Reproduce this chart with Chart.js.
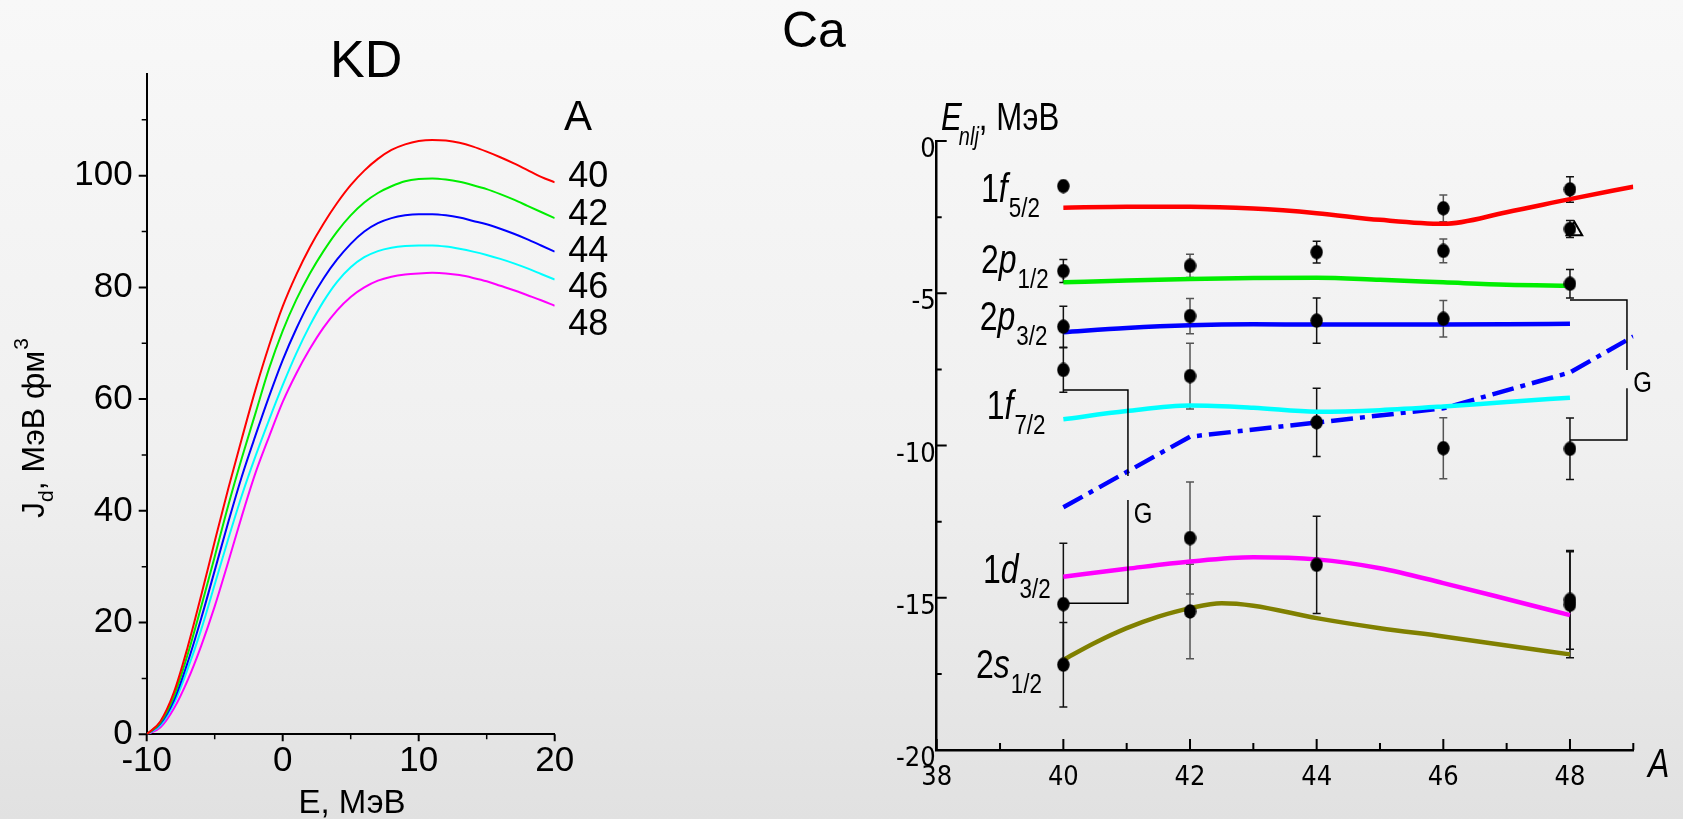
<!DOCTYPE html>
<html>
<head>
<meta charset="utf-8">
<script src="https://cdn.jsdelivr.net/npm/chart.js@4.4.1/dist/chart.umd.min.js"></script>
<style>
  html, body { margin: 0; padding: 0; }
  body {
    width: 1683px; height: 819px; overflow: hidden; position: relative;
    background: linear-gradient(to bottom, #f8f8f8 0%, #f0f0f0 55%, #e1e1e1 100%);
  }
  #kd { position: absolute; left: 0; top: 0; width: 700px; height: 819px; }
  #levels { position: absolute; left: 700px; top: 0; width: 983px; height: 819px; }
</style>
</head>
<body>
<canvas id="kd" width="700" height="819"></canvas>
<canvas id="levels" width="983" height="819"></canvas>
<script>
const SANS = '"Liberation Sans", Arial, sans-serif';
const NARROW = '"Liberation Sans Narrow", "Arial Narrow", "DejaVu Sans Condensed", sans-serif';

// ---- left panel: volume integral J_d(E) for Ca isotopes ----
const energy = [-10, -9, -8, -7, -6, -5, -4, -3, -2, -1, 0, 1, 2, 3, 4, 5, 6, 7, 8, 9, 10,
                11, 12, 13, 14, 15, 16, 17, 18, 19, 20];
const jd40 = [0, 2.3, 7.5, 15.5, 24.8, 34.5, 44, 53, 61.7, 69.6, 76.6, 82.3, 87.2, 91.4, 95.1, 98.3,
              100.9, 103, 104.6, 105.6, 106.2, 106.4, 106.3, 105.9, 105.2, 104.3, 103.3, 102.2, 101, 99.8, 98.8];
const jd42 = [0, 2.1, 6.8, 14.2, 22.8, 31.8, 41, 49.5, 57.5, 65.5, 72.2, 77.8, 82.5, 86.5, 90, 92.9,
              95.2, 96.9, 98.1, 99, 99.4, 99.5, 99.3, 98.9, 98.3, 97.6, 96.7, 95.7, 94.6, 93.5, 92.4];
const jd44 = [0, 1.9, 6.1, 12.8, 20.7, 29.3, 38, 46.2, 53.5, 60.5, 67, 72.6, 77.5, 81.6, 85, 87.8,
              90, 91.5, 92.4, 92.9, 93.1, 93.1, 92.9, 92.5, 91.9, 91.3, 90.5, 89.6, 88.6, 87.5, 86.4];
const jd46 = [0, 1.6, 5.5, 11.6, 18.7, 26.8, 35, 42.8, 49.8, 56.3, 62.5, 68.2, 73.2, 77.5, 81, 83.6,
              85.4, 86.5, 87.1, 87.4, 87.5, 87.5, 87.3, 86.9, 86.4, 85.8, 85.1, 84.3, 83.4, 82.4, 81.4];
const jd48 = [0, 1.2, 4.6, 9.6, 15.8, 22.9, 30.9, 39.1, 46.8, 53.3, 59.5, 64.6, 69, 72.8, 75.9, 78.3,
              80, 81.2, 81.9, 82.3, 82.5, 82.6, 82.5, 82.2, 81.7, 81.1, 80.3, 79.5, 78.6, 77.7, 76.7];
const isotopes = ['40', '42', '44', '46', '48'];
const isoLabelJ = [99.7, 92.9, 86.3, 79.8, 73.2];
const kdColors = ['#ff0000', '#00ee00', '#0000ff', '#00ffff', '#ff00ff'];
const kdETicks = [-10, 0, 10, 20];
const kdEMinor = [-5, 5, 15];
const kdJTicks = [0, 20, 40, 60, 80, 100];
const kdJMinor = [10, 30, 50, 70, 90, 110];

// ---- right panel: single-particle levels E_nlj vs A ----
const lvF52A = [40, 41, 42, 43, 44, 45, 46, 47, 48, 49];
const lvF52E = [-2.19, -2.16, -2.16, -2.22, -2.37, -2.59, -2.72, -2.34, -1.91, -1.5];
const lvP12A = [40, 41, 42, 43, 44, 45, 46, 47, 48];
const lvP12E = [-4.64, -4.58, -4.53, -4.5, -4.49, -4.56, -4.64, -4.72, -4.75];
const lvP32A = [40, 41, 42, 43, 44, 45, 46, 47, 48];
const lvP32E = [-6.28, -6.14, -6.05, -6.02, -6.03, -6.03, -6.03, -6.02, -6.0];
const lvF72A = [40, 41, 42, 43, 44, 45, 46, 47, 48];
const lvF72E = [-9.14, -8.87, -8.69, -8.76, -8.89, -8.84, -8.72, -8.57, -8.43];
const lvD32A = [40, 41, 42, 43, 44, 45, 46, 47, 48];
const lvD32E = [-14.31, -14.05, -13.81, -13.67, -13.74, -14.03, -14.52, -15.04, -15.57];
const lvS12A = [40, 40.5, 41, 41.5, 42, 42.5, 43, 44, 45, 46, 47, 48];
const lvS12E = [-17.04, -16.48, -16.0, -15.62, -15.34, -15.18, -15.26, -15.67, -16.0, -16.27, -16.57, -16.86];
const fermiA = [40, 42, 46, 48, 49];
const fermiE = [-12.03, -9.71, -8.78, -7.6, -6.42];

// experimental levels with uncertainties
const expA = [40, 40, 40, 40, 40, 40,
              42, 42, 42, 42, 42,
              44, 44, 44, 44,
              46, 46, 46, 46,
              48, 48, 48, 48, 48, 48];
const expE = [-1.48, -4.27, -6.1, -7.52, -15.21, -17.2,
              -4.1, -5.75, -7.72, -13.04, -15.45,
              -3.65, -5.9, -9.24, -13.92,
              -2.21, -3.61, -5.84, -10.09,
              -1.59, -2.89, -4.69, -10.11, -15.07, -15.23];
const expErr = [0, 0.38, 0.67, 0.73, 2.0, 1.39,
                0.38, 0.58, 1.08, 1.84, 1.55,
                0.36, 0.74, 1.12, 1.6,
                0.44, 0.39, 0.6, 1.0,
                0.42, 0.28, 0.47, 1.01, 1.62, 1.74];
const triA = [48.07];
const triE = [-2.95];

// gap brackets (null = break in the line)
const gapLeftA = [40, 41.02, 41.02, 41.02, 41.02, 41.02, 40];
const gapLeftE = [-8.18, -8.18, -11.0, null, -11.79, -15.18, -15.18];
const gapRightA = [48, 48.9, 48.9, 48.9, 48.9, 48.9, 48];
const gapRightE = [-5.22, -5.22, -7.52, null, -8.12, -9.82, -9.82];
const gapLabels = [{ text: 'G', a: 41.11, e: -12.55 }, { text: 'G', a: 49.0, e: -8.23 }];

const levelNames = [
  { n: '1', l: 'f', sub: '5/2', a: 38.7, e: -1.99 },
  { n: '2', l: 'p', sub: '1/2', a: 38.7, e: -4.34 },
  { n: '2', l: 'p', sub: '3/2', a: 38.68, e: -6.21 },
  { n: '1', l: 'f', sub: '7/2', a: 38.79, e: -9.14 },
  { n: '1', l: 'd', sub: '3/2', a: 38.73, e: -14.53 },
  { n: '2', l: 's', sub: '1/2', a: 38.62, e: -17.65 }
];
const lvATicks = [38, 40, 42, 44, 46, 48];
const lvAMinor = [39, 41, 43, 45, 47, 49];
const lvETicks = [0, -5, -10, -15, -20];
const lvEMinor = [-2.5, -7.5, -12.5, -17.5];

const pts = (xs, ys) => xs.map((x, i) => ({ x: x, y: ys[i] }));

// tick marks drawn along the axis lines
function tickMarks(chart, id, values, len, inward, width) {
  const s = chart.scales[id];
  const ca = chart.chartArea;
  const ctx = chart.ctx;
  ctx.save();
  ctx.strokeStyle = '#000';
  ctx.lineWidth = width;
  ctx.beginPath();
  values.forEach(v => {
    const p = s.getPixelForValue(v);
    if (s.isHorizontal()) {
      ctx.moveTo(p, ca.bottom);
      ctx.lineTo(p, inward ? ca.bottom - len : ca.bottom + len);
    } else {
      ctx.moveTo(ca.left, p);
      ctx.lineTo(inward ? ca.left + len : ca.left - len, p);
    }
  });
  ctx.stroke();
  ctx.restore();
}

// condensed text: Liberation Sans squeezed horizontally, returns the drawn width
function condensed(ctx, text, x, y, size, italic) {
  ctx.save();
  ctx.translate(x, y);
  ctx.scale(0.8, 1);
  ctx.font = (italic ? 'italic ' : '') + size + 'px ' + SANS;
  ctx.fillText(text, 0, 0);
  const w = ctx.measureText(text).width * 0.8;
  ctx.restore();
  return w;
}

const kdDecor = {
  id: 'kdDecor',
  afterDraw(chart) {
    const ctx = chart.ctx;
    const xs = chart.scales.x, ys = chart.scales.y;
    tickMarks(chart, 'x', kdETicks, 7, false, 2);
    tickMarks(chart, 'x', kdEMinor, 5, false, 1.5);
    tickMarks(chart, 'y', kdJTicks, 8, false, 2);
    tickMarks(chart, 'y', kdJMinor, 5, false, 1.5);
    ctx.save();
    ctx.fillStyle = '#000';
    ctx.font = '52px ' + SANS;
    ctx.textBaseline = 'alphabetic';
    ctx.fillText('KD', 330, 76.7);
    ctx.font = '42px ' + SANS;
    ctx.fillText('A', 564, 130);
    ctx.font = '36px ' + SANS;
    ctx.textBaseline = 'middle';
    isotopes.forEach((t, i) => {
      ctx.fillText(t, xs.getPixelForValue(21.0), ys.getPixelForValue(isoLabelJ[i]));
    });
    // axis titles
    ctx.textBaseline = 'alphabetic';
    ctx.font = '33px ' + SANS;
    ctx.textAlign = 'center';
    ctx.fillText('E, МэВ', 352, 813);
    ctx.translate(44, 430);
    ctx.rotate(-Math.PI / 2);
    ctx.textAlign = 'left';
    let x = -88;
    ctx.font = '32px ' + SANS;
    ctx.fillText('J', x, 0); x += ctx.measureText('J').width;
    ctx.font = '21px ' + SANS;
    ctx.fillText('d', x, 9); x += ctx.measureText('d').width;
    ctx.font = '32px ' + SANS;
    ctx.fillText(', МэВ фм', x, 0); x += ctx.measureText(', МэВ фм').width;
    ctx.font = '21px ' + SANS;
    ctx.fillText('3', x + 1, -16);
    ctx.restore();
  }
};

new Chart(document.getElementById('kd'), {
  type: 'line',
  data: {
    datasets: [jd40, jd42, jd44, jd46, jd48].map((d, i) => ({
      label: 'A=' + isotopes[i],
      data: pts(energy, d),
      borderColor: kdColors[i],
      borderWidth: 2,
      pointRadius: 0,
      fill: false,
      cubicInterpolationMode: 'monotone'
    }))
  },
  options: {
    responsive: false,
    animation: false,
    events: [],
    layout: { padding: { left: 0, top: 74, right: 145.3, bottom: 0 } },
    plugins: { legend: { display: false }, tooltip: { enabled: false } },
    scales: {
      x: {
        type: 'linear', min: -10, max: 20,
        grid: { display: false, drawTicks: false },
        border: { display: true, color: '#000', width: 2 },
        ticks: { color: '#000', font: { family: SANS, size: 35 }, padding: 6 },
        afterBuildTicks: s => { s.ticks = kdETicks.map(v => ({ value: v })); },
        afterFit: s => { s.height = 84.7; }
      },
      y: {
        type: 'linear', min: 0, max: 118.2,
        grid: { display: false, drawTicks: false },
        border: { display: true, color: '#000', width: 2 },
        ticks: { color: '#000', font: { family: SANS, size: 35 }, padding: 14 },
        afterBuildTicks: s => { s.ticks = kdJTicks.map(v => ({ value: v })); },
        afterFit: s => { s.width = 146.7; }
      }
    }
  },
  plugins: [kdDecor]
});

// filled data marker, slightly taller than wide
function dotImage(w, h) {
  const c = document.createElement('canvas');
  c.width = w; c.height = h;
  const g = c.getContext('2d');
  g.fillStyle = '#000';
  g.beginPath();
  g.ellipse(w / 2, h / 2, w / 2 - 0.3, h / 2 - 0.3, 0, 0, Math.PI * 2);
  g.fill();
  return c;
}

const errorBars = {
  id: 'errorBars',
  beforeDatasetsDraw(chart) {
    const ctx = chart.ctx;
    const ys = chart.scales.y;
    chart.data.datasets.forEach((ds, di) => {
      if (!ds.errors) return;
      const meta = chart.getDatasetMeta(di);
      meta.data.forEach((pt, i) => {
        const err = ds.errors[i];
        if (!err) return;
        const v = ds.data[i].y;
        const y1 = ys.getPixelForValue(v + err);
        const y2 = ys.getPixelForValue(v - err);
        const a = ds.data[i].x;
        ctx.save();
        ctx.strokeStyle = (a === 42 || a === 46) ? '#555' : '#111';
        ctx.lineWidth = 1.5;
        ctx.beginPath();
        ctx.moveTo(pt.x, y1); ctx.lineTo(pt.x, y2);
        ctx.moveTo(pt.x - 4, y1); ctx.lineTo(pt.x + 4, y1);
        ctx.moveTo(pt.x - 4, y2); ctx.lineTo(pt.x + 4, y2);
        ctx.stroke();
        ctx.restore();
      });
    });
  }
};

const levelDecor = {
  id: 'levelDecor',
  afterDraw(chart) {
    const ctx = chart.ctx;
    const xs = chart.scales.x, ys = chart.scales.y;
    tickMarks(chart, 'x', lvATicks, 11, true, 2);
    tickMarks(chart, 'x', lvAMinor, 7, true, 2);
    tickMarks(chart, 'y', lvETicks, 10, true, 2);
    tickMarks(chart, 'y', lvEMinor, 5, true, 2);
    ctx.save();
    ctx.fillStyle = '#000';
    ctx.textBaseline = 'alphabetic';
    ctx.textAlign = 'left';
    ctx.font = '50px ' + SANS;
    ctx.fillText('Ca', 82, 46.7);

    // level names, e.g. 1f with subscript 5/2
    levelNames.forEach(lv => {
      let x = xs.getPixelForValue(lv.a);
      const y = ys.getPixelForValue(lv.e);
      x += condensed(ctx, lv.n, x, y, 40, false);
      x += condensed(ctx, lv.l, x, y, 40, true) + 1;
      condensed(ctx, lv.sub, x, y + 15, 28, false);
    });

    gapLabels.forEach(g => {
      condensed(ctx, g.text, xs.getPixelForValue(g.a), ys.getPixelForValue(g.e), 30, false);
    });

    // axis titles
    let x = 241;
    x += condensed(ctx, 'E', x, 130, 39, true) - 3;
    x += condensed(ctx, 'nlj', x, 145, 25, true);
    condensed(ctx, ', МэВ', x, 130, 39, false);
    condensed(ctx, 'A', 948, 776.7, 40, true);
    ctx.restore();
  }
};

const curve = (xs, ys, color, extra) => Object.assign({
  data: pts(xs, ys),
  borderColor: color,
  borderWidth: 4.5,
  pointRadius: 0,
  fill: false,
  cubicInterpolationMode: 'monotone',
  order: 2
}, extra || {});

new Chart(document.getElementById('levels'), {
  type: 'line',
  data: {
    datasets: [
      {
        label: 'experiment',
        data: pts(expA, expE),
        errors: expErr,
        showLine: false,
        pointStyle: dotImage(13, 15),
        pointRadius: 7,
        order: 0
      },
      {
        label: 'experiment (alt)',
        data: pts(triA, triE),
        showLine: false,
        pointStyle: 'triangle',
        pointRadius: 9,
        borderColor: '#000',
        borderWidth: 2,
        backgroundColor: 'rgba(0,0,0,0)',
        order: 0
      },
      curve(lvF52A, lvF52E, '#ff0000'),
      curve(lvP12A, lvP12E, '#00ee00'),
      curve(lvP32A, lvP32E, '#0000ff'),
      curve(lvF72A, lvF72E, '#00ffff'),
      curve(lvD32A, lvD32E, '#ff00ff'),
      curve(lvS12A, lvS12E, '#808000'),
      curve(fermiA, fermiE, '#0000ff', { borderDash: [22, 7, 5, 7], cubicInterpolationMode: 'default', tension: 0, borderCapStyle: 'butt' }),
      { data: pts(gapLeftA, gapLeftE), borderColor: '#000', borderWidth: 1.5, pointRadius: 0, tension: 0, spanGaps: false, order: 1 },
      { data: pts(gapRightA, gapRightE), borderColor: '#000', borderWidth: 1.5, pointRadius: 0, tension: 0, spanGaps: false, order: 1 }
    ]
  },
  options: {
    responsive: false,
    animation: false,
    events: [],
    layout: { padding: { left: 0, top: 141, right: 49.7, bottom: 0 } },
    plugins: { legend: { display: false }, tooltip: { enabled: false } },
    scales: {
      x: {
        type: 'linear', min: 38, max: 49,
        grid: { display: false, drawTicks: false },
        border: { display: true, color: '#000', width: 2.5 },
        ticks: { color: '#000', font: { family: NARROW, size: 27 }, padding: 12 },
        afterBuildTicks: s => { s.ticks = lvATicks.map(v => ({ value: v })); },
        afterFit: s => { s.height = 69; }
      },
      y: {
        type: 'linear', min: -20, max: 0,
        grid: { display: false, drawTicks: false },
        border: { display: true, color: '#000', width: 2.5 },
        ticks: { color: '#000', font: { family: NARROW, size: 27 }, padding: 1, labelOffset: 9 },
        afterBuildTicks: s => { s.ticks = lvETicks.map(v => ({ value: v })); },
        afterFit: s => { s.width = 236.7; }
      }
    }
  },
  plugins: [errorBars, levelDecor]
});
</script>
</body>
</html>
